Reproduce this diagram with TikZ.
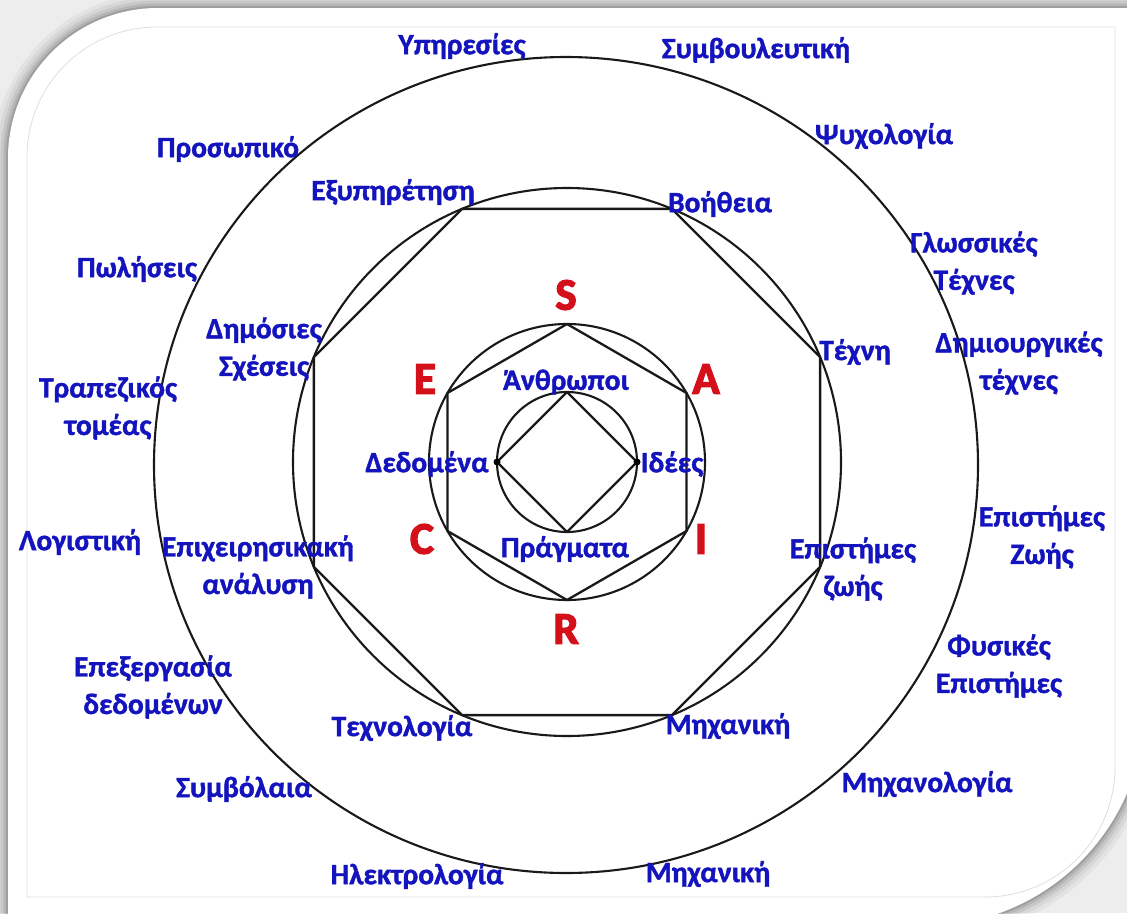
\documentclass[tikz,border=0pt]{standalone}
\usepackage{fontspec}
\setmainfont{Carlito}
\newfontfamily\lblfont{Carlito}[BoldFeatures={FakeBold=1.3}]
\newfontfamily\letterfont{Carlito}[BoldFeatures={FakeBold=3}]
\usetikzlibrary{calc}
\definecolor{lblue}{RGB}{20,20,190}
\definecolor{sred}{RGB}{212,16,26}
\begin{document}
\begin{tikzpicture}[x=1pt,y=-1pt,
  lbl/.style={text=lblue, font=\lblfont\fontsize{29.5}{37.5}\selectfont\bfseries, align=center, inner sep=0pt},
  letter/.style={text=sred, font=\letterfont\fontsize{45}{48}\selectfont\bfseries, inner sep=0pt},
  ring/.style={draw=black!90, line width=2.1pt},
  poly/.style={draw=black!90, line width=2.3pt, line join=round}]
\useasboundingbox (0,0) rectangle (1127,913);
% background and card with shadow
\fill[gray!14] (0,0) rectangle (1127,913);
\foreach \w/\o in {30/0.04,22/0.05,15/0.07,9/0.09,4/0.12}{
  \draw[line width=\w pt, black, opacity=\o] (8,930) -- (8,158) arc[start angle=180,end angle=90,radius=150pt] -- (1145,8) -- (1145,706) arc[start angle=0,end angle=-90,radius=220pt] -- (8,926);
}
\fill[white] (8,930) -- (8,158) arc[start angle=180,end angle=90,radius=150pt] -- (1145,8) -- (1145,706) arc[start angle=0,end angle=-90,radius=220pt] -- (8,926) -- cycle;
\draw[gray!25, line width=0.8pt] (27,897) -- (27,157) arc[start angle=180,end angle=90,radius=130pt] -- (1115,27) -- (1115,767) arc[start angle=0,end angle=-90,radius=130pt] -- cycle;

% geometry
\coordinate (c) at (567,462);
\draw[ring] (566,465) ellipse[x radius=412pt, y radius=408pt];
\draw[ring] (c) circle[radius=274pt];
\draw[ring] (c) circle[radius=138pt];
\draw[ring] (c) circle[radius=70pt];
\foreach \i in {1,...,8}{ \coordinate (o\i) at ($(c)+({-67.5+45*(\i-1)}:274)$); }
\draw[poly] (o1) -- (o2) -- (o3) -- (o4) -- (o5) -- (o6) -- (o7) -- (o8) -- cycle;
\foreach \i in {1,...,6}{ \coordinate (h\i) at ($(c)+({-90+60*(\i-1)}:138)$); }
\draw[poly] (h1) -- (h2) -- (h3) -- (h4) -- (h5) -- (h6) -- cycle;
\foreach \i in {1,...,4}{ \coordinate (d\i) at ($(c)+({-90+90*(\i-1)}:70)$); }
\draw[poly] (d1) -- (d2) -- (d3) -- (d4) -- cycle;
\fill (d2) circle[radius=3.5pt];
\fill (d4) circle[radius=3.5pt];

% RIASEC letters
\node[letter] (S) at (566,295) {S};
\node[letter] (A) at (706,379) {A};
\node[letter] (I) at (701,539) {I};
\node[letter] (R) at (566,629) {R};
\node[letter] (C) at (422,539) {C};
\node[letter] (E) at (425,379) {E};

% inner labels
\node[lbl] (anth) at (566,382) {Άνθρωποι};
\node[lbl] (ide) at (672,464) {Ιδέες};
\node[lbl] (prag) at (565,549) {Πράγματα};
\node[lbl] (ded) at (427,464) {Δεδομένα};

% octagon labels
\node[lbl] (exy) at (393,192) {Εξυπηρέτηση};
\node[lbl] (boi) at (720,204) {Βοήθεια};
\node[lbl] (tex) at (855,352) {Τέχνη};
\node[lbl] (epz) at (853,569) {Επιστήμες\\ζωής};
\node[lbl] (mix) at (728,726) {Μηχανική};
\node[lbl] (tech) at (402,728) {Τεχνολογία};
\node[lbl] (epi) at (258,567) {Επιχειρησικακή\\ανάλυση};
\node[lbl] (dim) at (264,349) {Δημόσιες\\Σχέσεις};

% outer labels
\node[lbl] (yp) at (462,46) {Υπηρεσίες};
\node[lbl] (sym) at (756,50) {Συμβουλευτική};
\node[lbl] (psy) at (884,136) {Ψυχολογία};
\node[lbl] (glo) at (974,263) {Γλωσσικές\\Τέχνες};
\node[lbl] (dimt) at (1019,363) {Δημιουργικές\\τέχνες};
\node[lbl] (epZ) at (1042,537) {Επιστήμες\\Ζωής};
\node[lbl] (fys) at (999,666) {Φυσικές\\Επιστήμες};
\node[lbl] (mixl) at (927,784) {Μηχανολογία};
\node[lbl] (mix2) at (708,874) {Μηχανική};
\node[lbl] (ilek) at (417,876) {Ηλεκτρολογία};
\node[lbl] (symb) at (244,789) {Συμβόλαια};
\node[lbl] (epex) at (153,687) {Επεξεργασία\\δεδομένων};
\node[lbl] (log) at (80,542) {Λογιστική};
\node[lbl] (trap) at (108,408) {Τραπεζικός\\τομέας};
\node[lbl] (pol) at (137,269) {Πωλήσεις};
\node[lbl] (pros) at (228,149) {Προσωπικό};
\end{tikzpicture}
\end{document}
